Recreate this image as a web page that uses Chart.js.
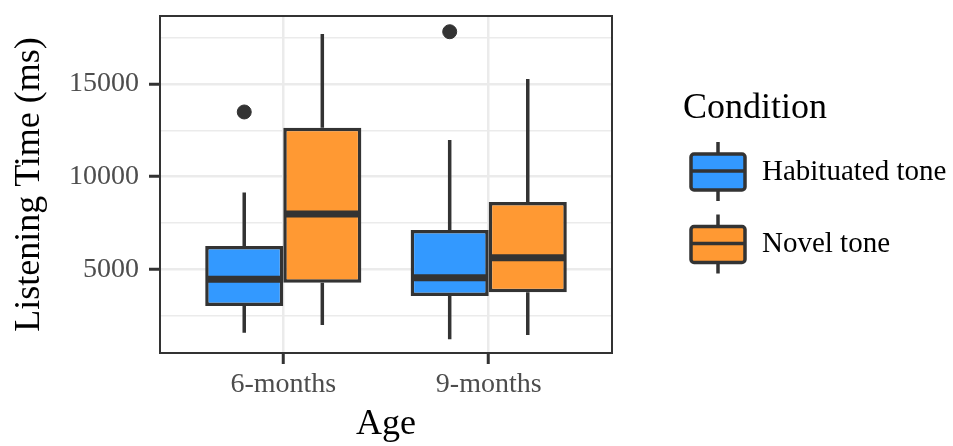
<!DOCTYPE html>
<html>
<head>
<meta charset="utf-8">
<script src="https://cdn.jsdelivr.net/npm/chart.js@4"></script>
<style>
  html, body { margin: 0; padding: 0; background: #fff; }
  #wrap { width: 953px; height: 446px; position: relative; }
</style>
</head>
<body>
<div id="wrap"><canvas id="chart"></canvas></div>
<script>
const ages = ["6-months", "9-months"];
const conditions = ["Habituated tone", "Novel tone"];
const fills = ["#3399FF", "#FF9933"];

// box stats per condition, one entry per age: [lowWhisker, q1, median, q3, highWhisker]
const habituatedStats = [
  [1580, 3020, 4460, 6260, 9140],
  [1220, 3560, 4550, 7120, 11980],
];
const novelStats = [
  [2000, 4280, 7990, 12640, 17700],
  [1460, 3760, 5630, 8630, 15270],
];
// outliers: [ageIndex, value]
const habituatedOutliers = [[0, 13490], [1, 17820]];
const novelOutliers = [];

const yTicks = [2500, 5000, 7500, 10000, 12500, 15000, 17500];
const yMajor = [5000, 10000, 15000];

const serif = '"Liberation Serif", "DejaVu Serif", serif';
const ink = "#333333";
const dodge = 0.19;

const allStats = [habituatedStats, novelStats];

function boxData(stats) {
  return stats.map((s, i) => ({ x: i + 1, y: [s[1], s[3]] }));
}

function outlierData(list, k) {
  return list.map(([i, v]) => ({ x: i + 1 + (k === 0 ? -dodge : dodge), y: v }));
}

// whiskers, medians, panel border and legend
const boxplotExtras = {
  id: "boxplotExtras",
  beforeDatasetsDraw(chart) {
    const { ctx } = chart;
    const y = chart.scales.y;
    ctx.save();
    ctx.strokeStyle = ink;
    ctx.lineWidth = 3.5;
    ctx.lineCap = "butt";
    allStats.forEach((stats, k) => {
      const meta = chart.getDatasetMeta(k);
      stats.forEach((s, i) => {
        const cx = meta.data[i].x;
        ctx.beginPath();
        ctx.moveTo(cx, y.getPixelForValue(s[0]));
        ctx.lineTo(cx, y.getPixelForValue(s[1]));
        ctx.moveTo(cx, y.getPixelForValue(s[3]));
        ctx.lineTo(cx, y.getPixelForValue(s[4]));
        ctx.stroke();
      });
    });
    ctx.restore();
  },
  afterDatasetsDraw(chart) {
    const { ctx, chartArea } = chart;
    const y = chart.scales.y;
    ctx.save();
    ctx.strokeStyle = ink;
    ctx.lineWidth = 7;
    allStats.forEach((stats, k) => {
      const meta = chart.getDatasetMeta(k);
      stats.forEach((s, i) => {
        const bar = meta.data[i];
        const half = bar.width / 2;
        const my = y.getPixelForValue(s[2]);
        ctx.beginPath();
        ctx.moveTo(bar.x - half + 1, my);
        ctx.lineTo(bar.x + half - 1, my);
        ctx.stroke();
      });
    });
    // panel border
    ctx.lineWidth = 2;
    ctx.strokeRect(chartArea.left, chartArea.top,
      chartArea.right - chartArea.left, chartArea.bottom - chartArea.top);
    ctx.restore();

    // legend
    ctx.save();
    ctx.fillStyle = "#000";
    ctx.font = "36px " + serif;
    ctx.textBaseline = "alphabetic";
    ctx.textAlign = "left";
    ctx.fillText("Condition", 683, 118);
    ctx.font = "29px " + serif;
    conditions.forEach((label, k) => {
      const cy = 171 + k * 72.5;
      const cx = 718;
      ctx.strokeStyle = ink;
      ctx.lineWidth = 3.5;
      ctx.beginPath();
      ctx.moveTo(cx, cy - 29);
      ctx.lineTo(cx, cy + 30);
      ctx.stroke();
      ctx.fillStyle = fills[k];
      ctx.beginPath();
      ctx.roundRect(691, cy - 17, 54, 36, 3);
      ctx.fill();
      ctx.stroke();
      ctx.beginPath();
      ctx.moveTo(691, cy);
      ctx.lineTo(745, cy);
      ctx.stroke();
      ctx.fillStyle = "#000";
      ctx.textBaseline = "middle";
      ctx.fillText(label, 762, cy + 1);
    });
    ctx.restore();
  },
};

new Chart(document.getElementById("chart"), {
  type: "bar",
  data: {
    datasets: [
      {
        label: conditions[0],
        data: boxData(habituatedStats),
        backgroundColor: fills[0],
        borderColor: ink,
        borderWidth: 3.5,
        borderSkipped: false,
        categoryPercentage: dodge * 4,
        barPercentage: 1,
      },
      {
        label: conditions[1],
        data: boxData(novelStats),
        backgroundColor: fills[1],
        borderColor: ink,
        borderWidth: 3.5,
        borderSkipped: false,
        categoryPercentage: dodge * 4,
        barPercentage: 1,
      },
      {
        type: "scatter",
        label: "outliers",
        data: outlierData(habituatedOutliers, 0).concat(outlierData(novelOutliers, 1)),
        backgroundColor: ink,
        borderColor: ink,
        pointRadius: 7,
        pointHoverRadius: 7,
      },
    ],
  },
  options: {
    responsive: true,
    maintainAspectRatio: false,
    animation: false,
    layout: { padding: { left: 0, top: 16, right: 341, bottom: 0 } },
    plugins: {
      legend: { display: false },
      tooltip: { enabled: false },
    },
    scales: {
      x: {
        type: "linear",
        min: 0.4,
        max: 2.6,
        offset: false,
        afterBuildTicks: (scale) => {
          scale.ticks = ages.map((_, i) => ({ value: i + 1 }));
        },
        afterFit: (scale) => {
          scale.height = 93;
          scale.paddingLeft = 0;
          scale.paddingRight = 0;
        },
        grid: {
          offset: false,
          color: "#EBEBEB",
          lineWidth: 2.5,
          tickColor: ink,
          tickWidth: 3,
          tickLength: 11,
        },
        border: { display: false },
        ticks: {
          color: "#4D4D4D",
          font: { family: serif, size: 28 },
          padding: 4,
          autoSkip: false,
          maxRotation: 0,
          callback: (v) => ages[v - 1] || "",
        },
        title: {
          display: true,
          text: "Age",
          color: "#000",
          font: { family: serif, size: 36 },
          padding: { top: 0, bottom: 0 },
        },
      },
      y: {
        min: 484,
        max: 18669,
        afterBuildTicks: (scale) => {
          scale.ticks = yTicks.map((v) => ({ value: v }));
        },
        afterFit: (scale) => {
          scale.width = 160;
          scale.paddingTop = 0;
          scale.paddingBottom = 0;
        },
        grid: {
          color: "#EBEBEB",
          lineWidth: (c) => (yMajor.includes(c.tick.value) ? 2.5 : 1.5),
          tickColor: (c) => (yMajor.includes(c.tick.value) ? ink : "rgba(0,0,0,0)"),
          tickWidth: 3,
          tickLength: 11,
        },
        border: { display: false },
        ticks: {
          color: "#4D4D4D",
          font: { family: serif, size: 28 },
          padding: 10,
          autoSkip: false,
          callback: (v) => (yMajor.includes(v) ? String(v) : ""),
        },
        title: {
          display: true,
          text: "Listening Time (ms)",
          color: "#000",
          font: { family: serif, size: 36 },
          padding: { top: 8, bottom: 0 },
        },
      },
    },
  },
  plugins: [boxplotExtras],
});
</script>
</body>
</html>
